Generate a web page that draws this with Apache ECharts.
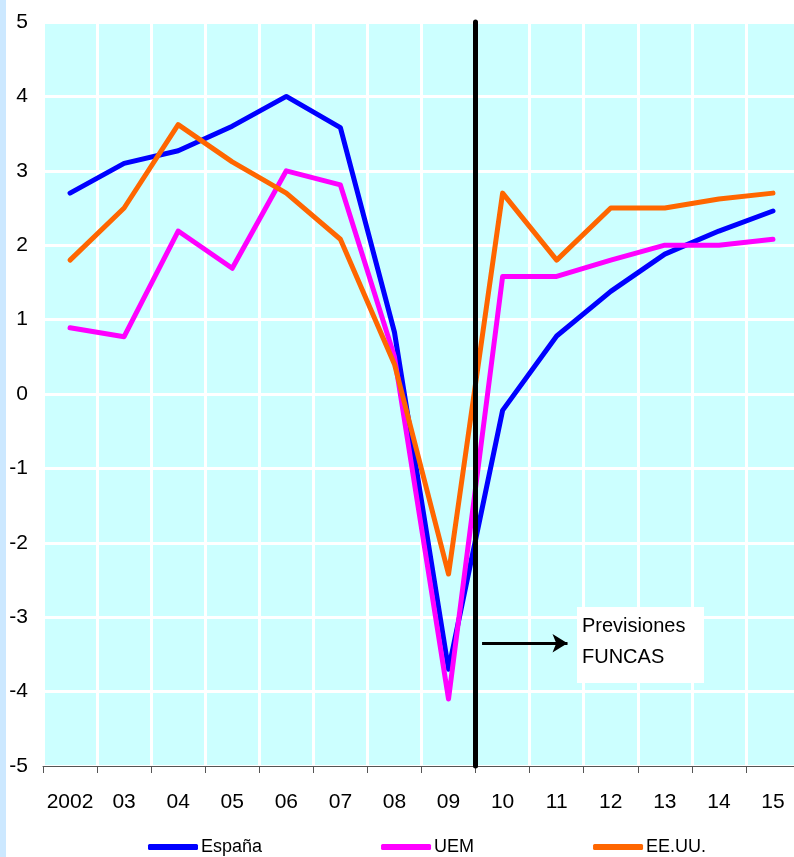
<!DOCTYPE html>
<html>
<head>
<meta charset="utf-8">
<script src="https://cdn.jsdelivr.net/npm/echarts@6/dist/echarts.min.js"></script>
<style>
  html, body { margin: 0; padding: 0; background: #fff; overflow: hidden; }
  /* the plot runs a few pixels past the right edge in the original */
  #box { width: 802px; height: 857px; }
</style>
</head>
<body>
<div id="box"></div>
<script>
// years (x axis) and the three GDP growth series
var years = ['2002', '03', '04', '05', '06', '07', '08', '09', '10', '11', '12', '13', '14', '15'];
var espana = [2.7, 3.1, 3.27, 3.6, 4.0, 3.58, 0.83, -3.7, -0.22, 0.78, 1.38, 1.88, 2.19, 2.46];
var uem = [0.89, 0.77, 2.19, 1.69, 3.0, 2.81, 0.5, -4.1, 1.58, 1.58, 1.8, 2.0, 2.0, 2.08];
var eeuu = [1.8, 2.5, 3.62, 3.12, 2.7, 2.08, 0.4, -2.42, 2.7, 1.8, 2.5, 2.5, 2.62, 2.7];

// forecast divider sits on the boundary between 09 and 10
var forecastStart = 8;
var arrowY = -3.35;

window.onload = function () {
    var myChart = echarts.init(document.getElementById('box'));
    var font = 'Liberation Sans, Arial, sans-serif';

    function lineSeries(name, data, color) {
        return {
            name: name,
            type: 'line',
            data: data,
            showSymbol: false,
            symbol: 'none',
            lineStyle: { color: color, width: 5, cap: 'round', join: 'round' },
            itemStyle: { color: color },
            z: 3
        };
    }

    var option = {
        backgroundColor: '#ffffff',
        animation: false,
        grid: {
            left: 43,
            top: 22,
            width: 757,
            height: 744,
            show: true,
            backgroundColor: '#ccffff',
            borderWidth: 0
        },
        legend: {
            left: 143,
            top: 833,
            itemGap: 119,
            itemWidth: 50,
            itemHeight: 6,
            icon: 'roundRect',
            textStyle: { fontFamily: font, fontSize: 18, color: '#000', padding: [0, 0, 0, -2] },
            data: ['España', 'UEM', 'EE.UU.']
        },
        xAxis: [{
            type: 'category',
            data: years,
            boundaryGap: true,
            axisLine: { show: true, onZero: false, lineStyle: { color: '#555', width: 1 } },
            axisTick: { show: true, interval: 0, length: 7, lineStyle: { color: '#555' } },
            axisLabel: { interval: 0, fontFamily: font, fontSize: 21, color: '#000', margin: 26 },
            splitLine: { show: true, interval: 0, lineStyle: { color: '#ffffff', width: 3 } }
        }, {
            // hidden helper axis to place the divider and the arrow between categories
            type: 'value',
            min: 0,
            max: 14,
            show: false
        }],
        yAxis: {
            type: 'value',
            min: -5,
            max: 5,
            interval: 1,
            axisLine: { show: false },
            axisTick: { show: false },
            axisLabel: { fontFamily: font, fontSize: 21, color: '#000', margin: 15 },
            splitLine: { show: true, lineStyle: { color: '#ffffff', width: 3 } }
        },
        series: [
            lineSeries('España', espana, '#0000ff'),
            lineSeries('UEM', uem, '#ff00ff'),
            lineSeries('EE.UU.', eeuu, '#ff6600'),
            {
                type: 'line',
                xAxisIndex: 1,
                data: [],
                silent: true,
                markLine: {
                    silent: true,
                    animation: false,
                    label: { show: false },
                    emphasis: { disabled: true },
                    data: [
                        [
                            { coord: [forecastStart, 5], symbol: 'none', lineStyle: { color: '#000', width: 5, type: 'solid', cap: 'round' } },
                            { coord: [forecastStart, -5], symbol: 'none' }
                        ],
                        [
                            { coord: [forecastStart + 0.12, arrowY], symbol: 'none', lineStyle: { color: '#000', width: 3, type: 'solid' } },
                            { coord: [forecastStart + 1.7, arrowY], symbol: 'arrow', symbolSize: [14, 15] }
                        ]
                    ]
                },
                z: 5
            }
        ],
        graphic: [
            {
                type: 'rect',
                left: 0,
                top: 0,
                shape: { width: 6, height: 857 },
                style: { fill: '#cce8ff' }
            },
            {
                type: 'rect',
                left: 577,
                top: 607,
                shape: { width: 127, height: 76 },
                style: { fill: '#ffffff' },
                z: 10
            },
            {
                type: 'text',
                left: 582,
                top: 611,
                style: {
                    text: 'Previsiones\nFUNCAS',
                    fontFamily: font,
                    fontSize: 20,
                    lineHeight: 31,
                    fill: '#000'
                },
                z: 11
            }
        ]
    };
    myChart.setOption(option);
};
</script>
</body>
</html>
